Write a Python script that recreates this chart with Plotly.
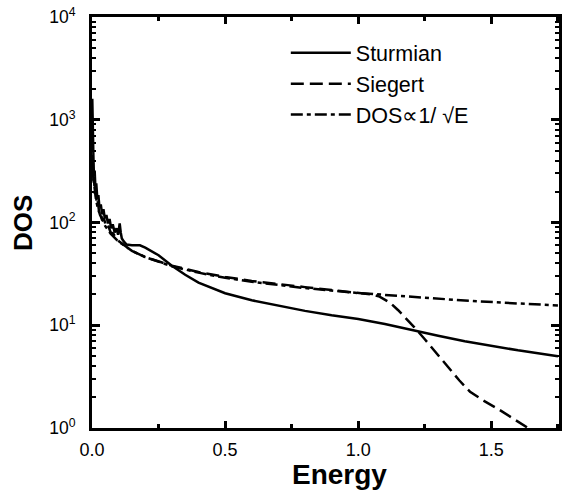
import plotly.graph_objects as go

# ---- data ----
stur_E = [0.001, 0.002, 0.004, 0.006, 0.008, 0.010, 0.013, 0.016, 0.020, 0.024, 0.028,
          0.033, 0.038, 0.043, 0.048, 0.054, 0.060, 0.066, 0.072, 0.078, 0.085, 0.092,
          0.098, 0.104, 0.108, 0.112, 0.120, 0.130, 0.150, 0.180, 0.200, 0.250, 0.300,
          0.350, 0.400, 0.500, 0.600, 0.700, 0.800, 0.900, 1.000, 1.100, 1.200, 1.300,
          1.400, 1.500, 1.600, 1.750]
stur_D = [1600, 900, 500, 350, 280, 320, 210, 240, 170, 185, 140,
          150, 120, 135, 110, 118, 98, 108, 88, 96, 80, 88,
          76, 98, 80, 70, 65, 61, 60, 60, 57, 48, 38,
          31, 26, 20.5, 17.5, 15.5, 13.8, 12.5, 11.5, 10.3, 9.0, 7.9,
          7.0, 6.3, 5.7, 5.0]

sieg_E = [0.001, 0.003, 0.005, 0.008, 0.011, 0.014, 0.018, 0.022, 0.027, 0.032, 0.038,
          0.045, 0.052, 0.060, 0.070, 0.080, 0.090, 0.100, 0.120, 0.150, 0.200, 0.300,
          0.400, 0.500, 0.600, 0.700, 0.800, 0.900, 1.000, 1.050, 1.080, 1.120, 1.150,
          1.180, 1.210, 1.250, 1.300, 1.340, 1.380, 1.420, 1.470, 1.520, 1.570, 1.620, 1.660]
sieg_D = [700, 420, 260, 250, 190, 200, 150, 160, 125, 130, 105,
          110, 92, 95, 80, 78, 70, 66, 60, 53, 46, 38,
          33, 29.5, 27, 25, 23.5, 22, 20.8, 20.0, 19.0, 16.5, 14.0,
          11.7, 9.6, 7.3, 5.1, 3.8, 2.9, 2.25, 1.85, 1.56, 1.3, 1.07, 0.92]

fit_E = [0.001, 0.002, 0.004, 0.007, 0.010, 0.015, 0.020, 0.030, 0.050, 0.070, 0.100,
         0.150, 0.200, 0.300, 0.400, 0.500, 0.600, 0.800, 1.000, 1.200, 1.400, 1.600, 1.750]
fit_D = [650, 460, 325, 246, 206, 168, 145, 119, 92, 78, 65,
         53, 46, 37.5, 32.5, 29, 26.5, 23, 20.6, 18.8, 17.4, 16.3, 15.6]

names = ["Sturmian", "Siegert", "DOS\u221d1/ \u221aE"]

y_tickvals = [1, 10, 100, 1000, 10000]
y_ticktext = ["10<sup>0</sup>", "10<sup>1</sup>", "10<sup>2</sup>", "10<sup>3</sup>", "10<sup>4</sup>"]
y_minor = [k * 10 ** d for d in range(4) for k in range(2, 10)]
x_tickvals = [0.0, 0.5, 1.0, 1.5]
x_ticktext = ["0.0", "0.5", "1.0", "1.5"]

FONT = "Liberation Sans, Arial, Helvetica, sans-serif"
LW = 2.5

fig = go.Figure()
fig.add_trace(go.Scatter(x=stur_E, y=stur_D, mode="lines", name=names[0],
                         line=dict(color="black", width=LW)))
fig.add_trace(go.Scatter(x=sieg_E, y=sieg_D, mode="lines", name=names[1],
                         line=dict(color="black", width=LW, dash="13px,6px")))
fig.add_trace(go.Scatter(x=fit_E, y=fit_D, mode="lines", name=names[2],
                         line=dict(color="black", width=LW, dash="12px,4px,4px,4px")))

fig.update_layout(
    width=566, height=495,
    margin=dict(l=92, r=4, t=17, b=67),
    paper_bgcolor="white", plot_bgcolor="white",
    font=dict(family=FONT, color="black", size=18),
    showlegend=True,
    legend=dict(x=0.415, y=0.963, xanchor="left", yanchor="top",
                bgcolor="rgba(0,0,0,0)", font=dict(size=21.5, family=FONT),
                itemwidth=60, tracegroupgap=0),
    annotations=[
        dict(text="<b>Energy</b>", xref="paper", yref="paper", x=0.53, y=-0.114,
             xanchor="center", yanchor="middle", showarrow=False,
             font=dict(size=28, family=FONT, color="black")),
        dict(text="<b>DOS</b>", xref="paper", yref="paper", x=-0.149, y=0.50,
             xanchor="center", yanchor="middle", showarrow=False, textangle=-90,
             font=dict(size=26, family=FONT, color="black")),
    ],
)
fig.update_xaxes(
    range=[0, 1.754], showgrid=False, zeroline=False,
    showline=True, linecolor="black", linewidth=3, mirror="allticks",
    ticks="inside", ticklen=7, tickwidth=2.5, tickcolor="black",
    tickvals=x_tickvals, ticktext=x_ticktext, ticklabelstandoff=3,
    tickfont=dict(size=18, family=FONT),
    minor=dict(dtick=0.25, ticks="inside", ticklen=4, tickwidth=2.5, tickcolor="black"),
)
fig.update_yaxes(
    type="log", range=[0, 4], showgrid=False, zeroline=False,
    showline=True, linecolor="black", linewidth=3, mirror="allticks",
    ticks="inside", ticklen=8, tickwidth=2.5, tickcolor="black",
    tickvals=y_tickvals, ticktext=y_ticktext, ticklabelstandoff=10,
    tickfont=dict(size=17.5, family=FONT),
    minor=dict(tickvals=y_minor, ticks="inside", ticklen=4, tickwidth=2, tickcolor="black"),
)

fig.write_html("out.html")
